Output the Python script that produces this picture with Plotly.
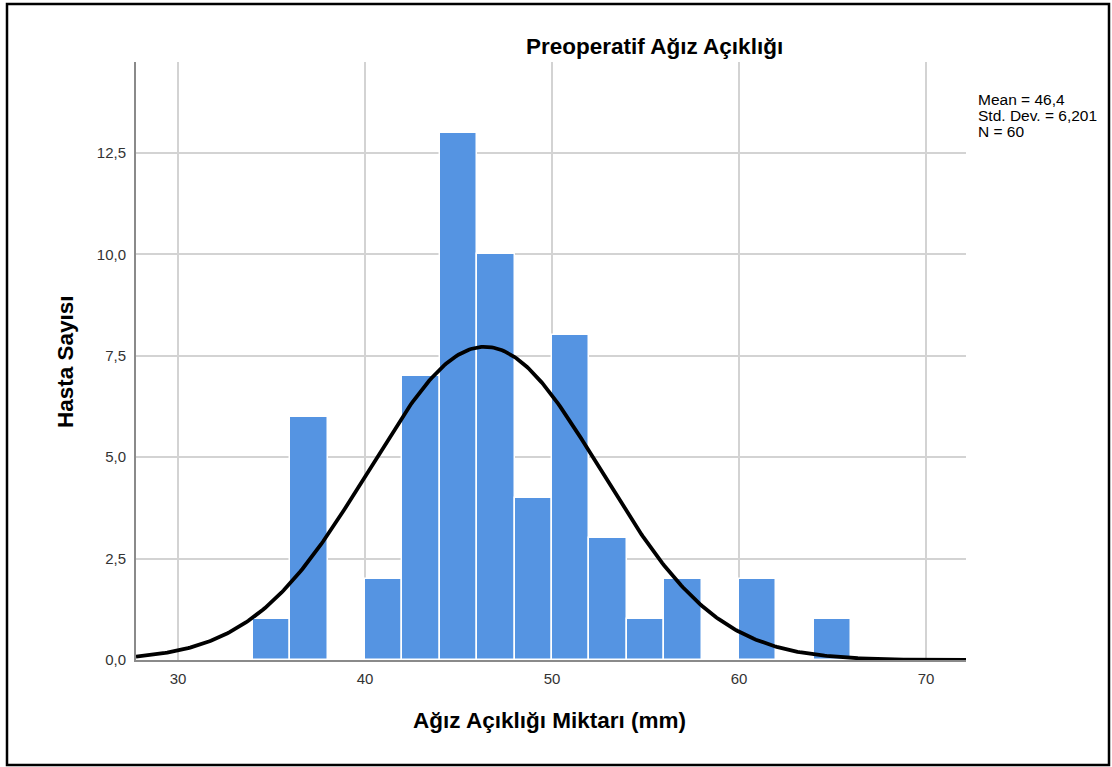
import numpy as np
import plotly.graph_objects as go

# Histogram data (bin width 2)
bin_left = [34, 36, 38, 40, 42, 44, 46, 48, 50, 52, 54, 56, 58, 60, 62, 64]
counts   = [1, 6, 0, 2, 7, 13, 10, 4, 8, 3, 1, 2, 0, 2, 0, 1]
bin_width = 2
mean_val = 46.4
std_val = 6.201
n_val = 60

x_ticks = [30, 40, 50, 60, 70]
y_ticks = [0, 2.5, 5.0, 7.5, 10.0, 12.5]
y_tick_text = ["0,0", "2,5", "5,0", "7,5", "10,0", "12,5"]

stats_lines = ["Mean = 46,4", "Std. Dev. = 6,201", "N = 60"]

x_range = [27.75, 72.14]
y_range = [0, 14.74]

centers = [b + bin_width / 2 for b in bin_left]

# Fitted normal curve scaled to counts
xc = np.linspace(x_range[0], x_range[1], 400)
yc = n_val * bin_width / (std_val * np.sqrt(2 * np.pi)) * np.exp(-0.5 * ((xc - mean_val) / std_val) ** 2)

fig = go.Figure()
fig.add_trace(go.Bar(
    x=centers, y=counts, width=bin_width,
    marker=dict(color="#5594E2", line=dict(color="white", width=1.5)),
    hoverinfo="x+y", showlegend=False,
))
fig.add_trace(go.Scatter(
    x=xc, y=yc, mode="lines",
    line=dict(color="black", width=3.8),
    showlegend=False, hoverinfo="skip",
))

font_family = "Liberation Sans, Arial, sans-serif"

# plot area in pixels
L, R, T, B = 136, 966, 62, 660
PW, PH = R - L, B - T

def px(x):
    return (x - L) / PW

def py(y):
    return (B - y) / PH

annotations = [
    dict(text="<b>Preoperatif Ağız Açıklığı</b>", xref="paper", yref="paper",
         x=px(654.5), y=py(46), xanchor="center", yanchor="middle",
         showarrow=False, font=dict(size=22.5, color="black", family=font_family)),
    dict(text="<b>Ağız Açıklığı Miktarı (mm)</b>", xref="paper", yref="paper",
         x=px(549), y=py(720), xanchor="center", yanchor="middle",
         showarrow=False, font=dict(size=22.5, color="black", family=font_family)),
    dict(text="<b>Hasta Sayısı</b>", xref="paper", yref="paper",
         x=px(65), y=py(362), xanchor="center", yanchor="middle",
         textangle=-90,
         showarrow=False, font=dict(size=22.5, color="black", family=font_family)),
]
for i, line in enumerate(stats_lines):
    annotations.append(dict(
        text=line, xref="paper", yref="paper",
        x=px(976), y=py(100 + i * 15.7), xanchor="left", yanchor="middle",
        align="left", showarrow=False,
        font=dict(size=15.5, color="black", family=font_family)))

fig.update_layout(
    width=1112, height=767,
    margin=dict(l=L, r=1112 - R, t=T, b=767 - B),
    paper_bgcolor="white", plot_bgcolor="white",
    bargap=0,
    font=dict(family=font_family, color="#222"),
    xaxis=dict(
        range=x_range, tickvals=x_ticks, ticktext=[str(v) for v in x_ticks],
        showgrid=True, gridcolor="#d3d3d3", gridwidth=1.5,
        showline=True, linecolor="#8a8a8a", linewidth=2,
        ticks="", tickfont=dict(size=15, color="#333"), ticklabelstandoff=4,
        zeroline=False, fixedrange=True,
    ),
    yaxis=dict(
        range=y_range, tickvals=y_ticks, ticktext=y_tick_text,
        showgrid=True, gridcolor="#d3d3d3", gridwidth=1.5,
        showline=True, linecolor="#8a8a8a", linewidth=2,
        ticks="", tickfont=dict(size=15, color="#333"), ticklabelstandoff=5,
        zeroline=False, fixedrange=True,
    ),
    annotations=annotations,
    shapes=[
        dict(type="rect", xref="paper", yref="paper",
             x0=px(7), x1=px(1109), y0=py(765), y1=py(4),
             line=dict(color="black", width=2.5), fillcolor="rgba(0,0,0,0)", layer="above"),
    ],
)

fig.write_html("out.html")
